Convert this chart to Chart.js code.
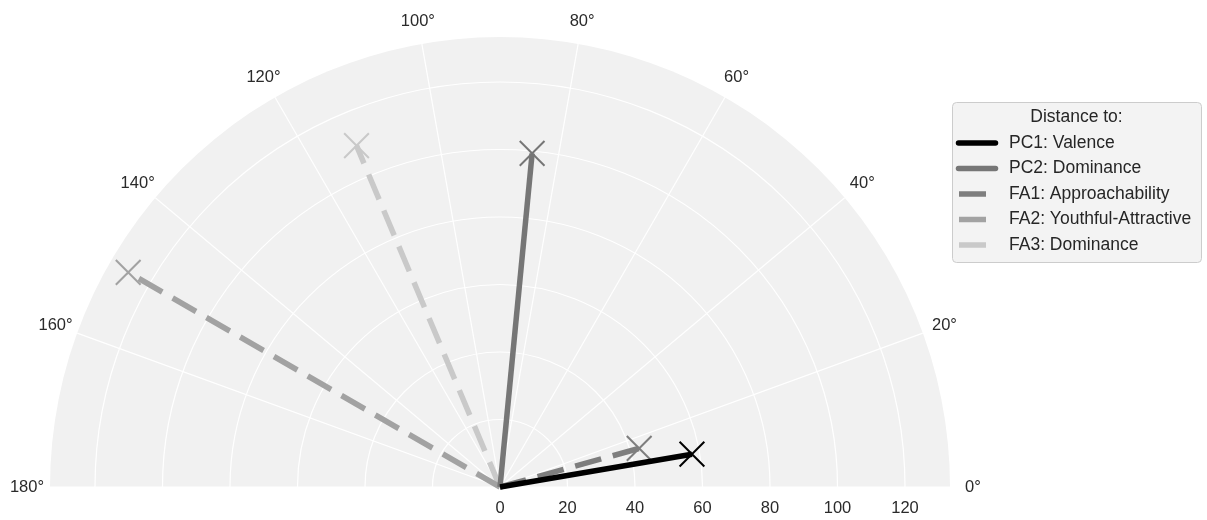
<!DOCTYPE html>
<html>
<head>
<meta charset="utf-8">
<script src="https://cdn.jsdelivr.net/npm/chart.js@4"></script>
<style>
  html, body { margin: 0; padding: 0; background: #ffffff; }
  #wrap { width: 1207px; height: 520px; }
</style>
</head>
<body>
<div id="wrap"><canvas id="c" width="1207" height="520"></canvas></div>
<script>
// ---- data ----
const seriesLabels = ["PC1: Valence", "PC2: Dominance", "FA1: Approachability", "FA2: Youthful-Attractive", "FA3: Dominance"];
const seriesDistance = [57.7, 99.3, 42.8, 127.2, 109.7];   // radial value
const seriesAngleDeg = [9.7, 84.5, 15.5, 150.0, 112.8];    // angle in degrees
const radialTicks = [0, 20, 40, 60, 80, 100, 120];
const angleTicks = [0, 20, 40, 60, 80, 100, 120, 140, 160, 180];
const legendTitle = "Distance to:";
const rMax = 133.33;

// ---- styles ----
const seriesColors = ["#000000", "#767676", "#7e7e7e", "#a2a2a2", "#c9c9c9"];
const seriesDash = [[], [], [27, 12], [27, 12], [27, 12]];
const FONT = "'Liberation Sans', Arial, sans-serif";

const datasets = seriesLabels.map((label, i) => {
  const t = seriesAngleDeg[i] * Math.PI / 180;
  const r = seriesDistance[i];
  return {
    label,
    data: [{x: 0, y: 0}, {x: r * Math.cos(t), y: r * Math.sin(t)}],
    showLine: true,
    borderColor: seriesColors[i],
    backgroundColor: seriesColors[i],
    borderWidth: 5.5,
    borderDash: seriesDash[i],
    borderCapStyle: 'butt',
    pointStyle: 'crossRot',
    pointRadius: [0, 17.5],
    pointHoverRadius: [0, 17.5],
    pointBorderWidth: 2,
    pointBorderColor: seriesColors[i],
    clip: false
  };
});

const polarGrid = {
  id: 'polarGrid',
  beforeDatasetsDraw(chart) {
    const {ctx, scales: {x, y}} = chart;
    const cx = x.getPixelForValue(0), cy = y.getPixelForValue(0);
    const R = x.getPixelForValue(rMax) - cx;
    const px = v => x.getPixelForValue(v) - cx;
    ctx.save();
    // background half disc
    ctx.beginPath();
    ctx.moveTo(cx + R, cy);
    ctx.arc(cx, cy, R, 0, Math.PI, true);
    ctx.closePath();
    ctx.fillStyle = '#f1f1f1';
    ctx.fill();
    // grid circles
    ctx.strokeStyle = '#ffffff';
    ctx.lineWidth = 1.2;
    radialTicks.forEach(v => {
      if (v <= 0) return;
      ctx.beginPath();
      ctx.arc(cx, cy, px(v), 0, Math.PI, true);
      ctx.stroke();
    });
    // spokes
    angleTicks.forEach(a => {
      const t = a * Math.PI / 180;
      ctx.beginPath();
      ctx.moveTo(cx, cy);
      ctx.lineTo(cx + R * Math.cos(t), cy - R * Math.sin(t));
      ctx.stroke();
    });
    ctx.restore();
  },
  afterDraw(chart) {
    const {ctx, scales: {x, y}} = chart;
    const cx = x.getPixelForValue(0), cy = y.getPixelForValue(0);
    const R = x.getPixelForValue(rMax) - cx;
    ctx.save();
    ctx.fillStyle = '#2a2a2a';
    ctx.font = `16.5px ${FONT}`;
    ctx.textAlign = 'center';
    ctx.textBaseline = 'middle';
    // radial tick labels
    radialTicks.forEach(v => {
      ctx.fillText(String(v), x.getPixelForValue(v), cy + 21);
    });
    // angle labels
    angleTicks.forEach(a => {
      const t = a * Math.PI / 180;
      const rr = R + 23;
      ctx.fillText(a + '°', cx + rr * Math.cos(t), cy - rr * Math.sin(t));
    });
    // legend
    const bx = 952, by = 102, bw = 249, bh = 160;
    ctx.beginPath();
    ctx.roundRect(bx + 0.5, by + 0.5, bw, bh, 4);
    ctx.fillStyle = 'rgba(242,242,242,0.9)';
    ctx.fill();
    ctx.strokeStyle = '#cccccc';
    ctx.lineWidth = 1;
    ctx.stroke();
    ctx.fillStyle = '#262626';
    ctx.font = `17.5px ${FONT}`;
    ctx.textAlign = 'center';
    ctx.fillText(legendTitle, bx + bw / 2, 117);
    ctx.textAlign = 'left';
    chart.data.datasets.forEach((ds, i) => {
      const ry = 143 + i * 25.5;
      ctx.save();
      ctx.strokeStyle = ds.borderColor;
      ctx.lineWidth = 5.5;
      if (ds.borderDash && ds.borderDash.length) {
        ctx.setLineDash(ds.borderDash);
        ctx.lineDashOffset = 36;
        ctx.lineCap = 'butt';
        ctx.beginPath();
        ctx.moveTo(956, ry);
        ctx.lineTo(998, ry);
        ctx.stroke();
      } else {
        ctx.lineCap = 'round';
        ctx.beginPath();
        ctx.moveTo(958.5, ry);
        ctx.lineTo(995.5, ry);
        ctx.stroke();
      }
      ctx.restore();
      ctx.fillStyle = '#262626';
      ctx.fillText(ds.label, 1009, ry);
    });
    ctx.restore();
  }
};

new Chart(document.getElementById('c'), {
  type: 'scatter',
  data: { datasets },
  options: {
    responsive: false,
    animation: false,
    layout: { padding: { left: 50, right: 257, top: 37, bottom: 33 } },
    scales: {
      x: { type: 'linear', min: -rMax, max: rMax, display: false },
      y: { type: 'linear', min: 0, max: rMax, display: false }
    },
    plugins: { legend: { display: false }, tooltip: { enabled: false } }
  },
  plugins: [polarGrid]
});
</script>
</body>
</html>
